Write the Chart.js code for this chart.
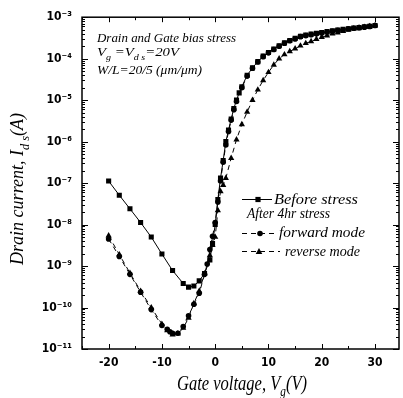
<!DOCTYPE html>
<html>
<head>
<meta charset="utf-8">
<script src="https://cdn.jsdelivr.net/npm/chart.js@4.4.1/dist/chart.umd.min.js"></script>
<style>
  html, body { margin: 0; padding: 0; background: #fff; }
  #wrap { width: 403px; height: 398px; }
</style>
</head>
<body>
<div id="wrap"><canvas id="c" width="403" height="398"></canvas></div>
<script>
// ---- data (gate voltage in V, drain current in A) ----
const xBefore = [-20,-18,-16,-14,-12,-10,-8,-6,-5,-4,-3,-2,-1,-0.5,0,0.5,1,1.5,2,2.5,3,3.5,4,4.5,5,6,7,8,9,10,11,12,13,14,15,16,17,18,19,20,21,22,23,24,25,26,27,28,29,30];
const iBefore = [1.12e-7,5.1e-8,2.4e-8,1.12e-8,5.0e-9,1.95e-9,7.8e-10,3.8e-10,3.1e-10,3.3e-10,4.4e-10,6.6e-10,1.41e-9,3.5e-9,1.0e-8,4.0e-8,1.32e-7,3.5e-7,1.0e-6,1.9e-6,3.5e-6,6.3e-6,1.0e-5,1.5e-5,2.1e-5,4.0e-5,6.0e-5,8.5e-5,1.15e-4,1.41e-4,1.7e-4,2.05e-4,2.4e-4,2.75e-4,3.1e-4,3.45e-4,3.7e-4,3.9e-4,4.1e-4,4.25e-4,4.5e-4,4.7e-4,4.9e-4,5.1e-4,5.25e-4,5.5e-4,5.6e-4,5.9e-4,6.0e-4,6.3e-4];

const xForward = [-20,-18,-16,-14,-12,-10,-9,-8.5,-8,-7,-6,-5,-4,-3,-2,-1.5,-1,-0.5,0,0.5,1,1.5,2,2.5,3,3.5,4,5,6,7,8,9,10,11,12,13,14,15,16,17,18,19,20,21,22,23,24,25,26,27,28,29,30];
const iForward = [4.5e-9,1.7e-9,6.3e-10,2.35e-10,8.9e-11,3.7e-11,3.0e-11,2.6e-11,2.4e-11,2.4e-11,3.5e-11,6.3e-11,1.2e-10,2.2e-10,6.3e-10,1.12e-9,2.5e-9,5.2e-9,1.12e-8,3.5e-8,1.12e-7,3.2e-7,8.3e-7,1.75e-6,3.3e-6,5.9e-6,9.3e-6,2.0e-5,3.8e-5,5.9e-5,8.3e-5,1.12e-4,1.38e-4,1.66e-4,2.0e-4,2.35e-4,2.7e-4,3.0e-4,3.4e-4,3.6e-4,3.8e-4,4.0e-4,4.2e-4,4.4e-4,4.6e-4,4.8e-4,5.0e-4,5.25e-4,5.4e-4,5.6e-4,5.75e-4,6.0e-4,6.3e-4];

const xReverse = [-20,-18,-16,-14,-12,-10,-9,-8,-7,-6,-5,-4,-3,-2,-1,-0.5,0,0.5,1,1.5,2,3,4,5,6,7,8,9,10,11,12,13,14,15,16,17,18,19,20,21,22,23,24,25,26,27,28,29,30];
const iReverse = [5.4e-9,1.9e-9,6.8e-10,2.5e-10,1.0e-10,4.0e-11,2.8e-11,2.2e-11,2.35e-11,3.2e-11,5.6e-11,1.26e-10,2.5e-10,6.6e-10,1.8e-9,3.2e-9,5.0e-9,2.2e-8,6.3e-8,8.9e-8,1.32e-7,4.0e-7,1.12e-6,2.6e-6,5.2e-6,1.0e-5,1.78e-5,3.0e-5,4.7e-5,7.1e-5,1.0e-4,1.26e-4,1.5e-4,1.74e-4,2.05e-4,2.35e-4,2.6e-4,2.95e-4,3.3e-4,3.6e-4,4.0e-4,4.25e-4,4.6e-4,4.9e-4,5.25e-4,5.5e-4,5.75e-4,6.0e-4,6.3e-4];

const xTickValues = [-20,-10,0,10,20,30];
const xMinorTicks = [-25,-15,-5,5,15,25];
const yDecades = [-11,-10,-9,-8,-7,-6,-5,-4,-3];

const seriesNames = ["Before stress", "forward mode", "reverse mode"];
const legendHeader = "After 4hr stress";

const SUP = {"-":"\u207B","0":"\u2070","1":"\u00B9","2":"\u00B2","3":"\u00B3","4":"\u2074","5":"\u2075","6":"\u2076","7":"\u2077","8":"\u2078","9":"\u2079"};
function supStr(n){ return String(n).split('').map(c=>SUP[c]).join(''); }

const toPts = (xs, ys) => xs.map((x,i)=>({x:x, y:ys[i]}));
const SERIF = '"Liberation Serif", "DejaVu Serif", serif';
const TICKFONT = '"DejaVu Sans Condensed", "DejaVu Sans", sans-serif';

function drawRich(ctx, parts, x, y, fs, opts) {
  opts = opts || {};
  ctx.save();
  const subFs = fs * 0.68;
  let total = 0;
  const widths = parts.map(p => {
    ctx.font = 'italic ' + (p.sub ? subFs : fs) + 'px ' + SERIF;
    const w = ctx.measureText(p.t).width;
    total += w;
    return w;
  });
  const sx = opts.width ? opts.width / total : 1;
  ctx.translate(x, y);
  if (opts.rot) ctx.rotate(opts.rot);
  ctx.scale(sx, 1);
  let cx = opts.align === 'left' ? 0 : -total / 2;
  ctx.fillStyle = '#000';
  ctx.textBaseline = 'alphabetic';
  ctx.textAlign = 'left';
  parts.forEach((p, i) => {
    ctx.font = 'italic ' + (p.sub ? subFs : fs) + 'px ' + SERIF;
    ctx.fillText(p.t, cx, p.sub ? fs * 0.3 : 0);
    cx += widths[i];
  });
  ctx.restore();
}

function marker(ctx, style, x, y) {
  ctx.save();
  ctx.fillStyle = '#000';
  ctx.beginPath();
  if (style === 'rect') { ctx.rect(x - 2.6, y - 2.6, 5.2, 5.2); }
  else if (style === 'circle') { ctx.arc(x, y, 2.8, 0, Math.PI * 2); }
  else { ctx.moveTo(x, y - 3.6); ctx.lineTo(x + 3.3, y + 2.4); ctx.lineTo(x - 3.3, y + 2.4); ctx.closePath(); }
  ctx.fill();
  ctx.restore();
}

const decor = {
  id: 'decor',
  afterDraw(chart) {
    const ctx = chart.ctx;
    const a = chart.chartArea;
    const xs = chart.scales.x, ys = chart.scales.y;
    ctx.save();
    ctx.strokeStyle = '#000';
    ctx.lineWidth = 1.5;
    ctx.strokeRect(a.left, a.top, a.right - a.left, a.bottom - a.top);
    ctx.lineWidth = 1;
    const xt = (v, len) => {
      const px = Math.round(xs.getPixelForValue(v)) + 0.5;
      ctx.beginPath();
      ctx.moveTo(px, a.bottom); ctx.lineTo(px, a.bottom - len);
      ctx.moveTo(px, a.top); ctx.lineTo(px, a.top + len);
      ctx.stroke();
    };
    xTickValues.forEach(v => xt(v, 5));
    xMinorTicks.forEach(v => xt(v, 3));
    const yt = (v, len) => {
      const py = Math.round(ys.getPixelForValue(v)) + 0.5;
      ctx.beginPath();
      ctx.moveTo(a.left, py); ctx.lineTo(a.left + len, py);
      ctx.moveTo(a.right, py); ctx.lineTo(a.right - len, py);
      ctx.stroke();
    };
    yDecades.forEach(d => {
      yt(Math.pow(10, d), 6);
      if (d < -3) for (let m = 2; m <= 9; m++) yt(m * Math.pow(10, d), 3);
    });
    ctx.restore();

    drawRich(ctx, [{t:'Drain current, I'},{t:'d s',sub:true},{t:'(A)'}], 23, 189, 19, {rot:-Math.PI/2, width:152});
    drawRich(ctx, [{t:'Gate voltage, V'},{t:'g',sub:true},{t:'(V)'}], 242, 390, 20, {width:130});

    drawRich(ctx, [{t:'Drain and Gate bias stress'}], 97, 42, 13.5, {align:'left', width:139});
    drawRich(ctx, [{t:'V'},{t:'g',sub:true},{t:' =V'},{t:'d s',sub:true},{t:'=20V'}], 97, 56, 13.5, {align:'left', width:82});
    drawRich(ctx, [{t:'W/L=20/5 (\u03BCm/\u03BCm)'}], 97, 74, 13, {align:'left', width:105});

    ctx.save();
    ctx.strokeStyle = '#000'; ctx.lineWidth = 1;
    ctx.beginPath(); ctx.moveTo(242, 199.5); ctx.lineTo(272, 199.5); ctx.stroke();
    marker(ctx, 'rect', 258, 199.5);
    ctx.setLineDash([5, 4]);
    ctx.beginPath(); ctx.moveTo(242, 233.5); ctx.lineTo(276, 233.5); ctx.stroke();
    ctx.beginPath(); ctx.moveTo(242, 251.5); ctx.lineTo(280, 251.5); ctx.stroke();
    ctx.restore();
    marker(ctx, 'circle', 260, 233.5);
    marker(ctx, 'tri', 259, 251.5);
    drawRich(ctx, [{t:seriesNames[0]}], 274, 204, 14, {align:'left', width:84});
    drawRich(ctx, [{t:legendHeader}], 247, 218, 14, {align:'left', width:83});
    drawRich(ctx, [{t:seriesNames[1]}], 279, 237, 14, {align:'left', width:86});
    drawRich(ctx, [{t:seriesNames[2]}], 285, 256, 14, {align:'left', width:75});
  }
};

const common = { borderColor:'#000', backgroundColor:'#000', borderWidth:1, tension:0, fill:false, pointBorderWidth:0 };

new Chart(document.getElementById('c'), {
  type: 'line',
  data: {
    datasets: [
      Object.assign({label: seriesNames[0], data: toPts(xBefore, iBefore), pointStyle:'rect', pointRadius:3.6}, common),
      Object.assign({label: seriesNames[1], data: toPts(xForward, iForward), pointStyle:'circle', pointRadius:2.8, borderDash:[5,4]}, common),
      Object.assign({label: seriesNames[2], data: toPts(xReverse, iReverse), pointStyle:'triangle', pointRadius:3.6, borderDash:[5,4]}, common)
    ]
  },
  options: {
    responsive: false,
    animation: false,
    layout: { padding: { top: 15, right: 2, left: 0, bottom: 0 } },
    plugins: { legend: { display: false }, tooltip: { enabled: false } },
    scales: {
      x: {
        type: 'linear', min: -25, max: 34.5,
        grid: { display: false, drawTicks: false },
        border: { display: false },
        afterBuildTicks: s => { s.ticks = xTickValues.map(v => ({value: v})); },
        afterFit: s => { s.height = 49; },
        ticks: { color:'#000', padding: 7, font: { family: TICKFONT, size: 12, weight: 'bold' }, callback: v => String(v) }
      },
      y: {
        type: 'logarithmic', min: 1e-11, max: 1e-3,
        grid: { display: false, drawTicks: false },
        border: { display: false },
        afterBuildTicks: s => { s.ticks = yDecades.map(d => ({value: Math.pow(10, d)})); },
        afterFit: s => { s.width = 82; },
        ticks: { color:'#000', padding: 10, autoSkip: false, font: { family: TICKFONT, size: 12, weight: 'bold' },
          callback: v => '10' + supStr(Math.round(Math.log10(v))) }
      }
    }
  },
  plugins: [decor]
});
</script>
</body>
</html>
